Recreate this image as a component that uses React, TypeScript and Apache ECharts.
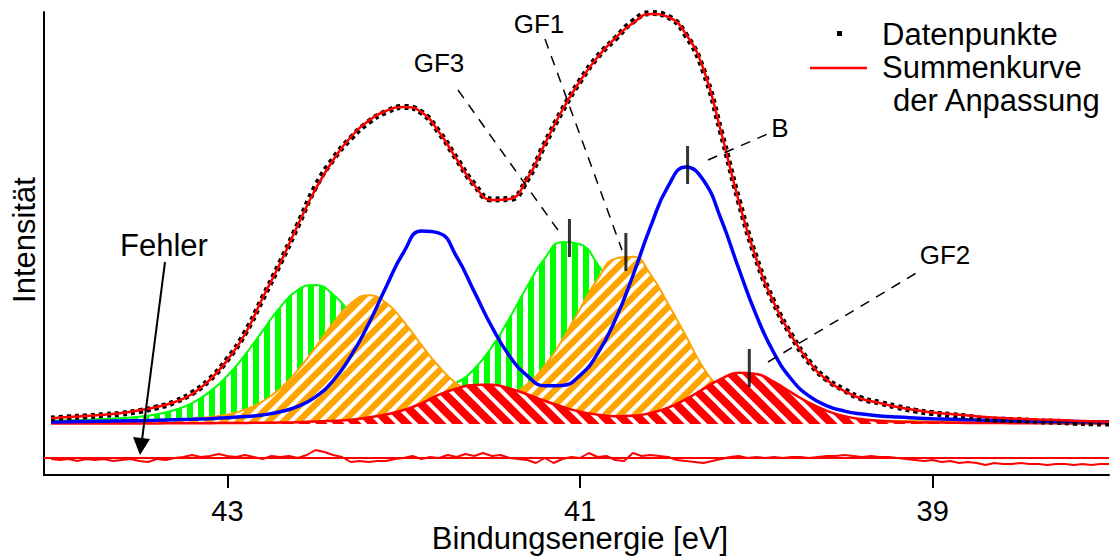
import React, { useEffect, useRef } from "react";
import * as echarts from "echarts";

const FONT = "'Liberation Sans', Arial, sans-serif";

// Binding energy grid of the fitted curves (eV)
const energies = [
  44.0, 43.9, 43.8, 43.7, 43.6, 43.5, 43.4, 43.3, 43.2, 43.1,
  43.0, 42.9, 42.8, 42.7, 42.6, 42.5, 42.4, 42.3, 42.2, 42.1,
  42.0, 41.9, 41.8, 41.7, 41.6, 41.5, 41.4, 41.3, 41.2, 41.1,
  41.0, 40.9, 40.8, 40.7, 40.6, 40.5, 40.4, 40.3, 40.2, 40.1,
  40.0, 39.9, 39.8, 39.7, 39.6, 39.5, 39.4, 39.3, 39.2, 39.1,
  39.0, 38.9, 38.8, 38.7, 38.6, 38.5, 38.4, 38.3, 38.2, 38.1,
  38.0,
];

// Summenkurve der Anpassung
const sumCurve = [
  5.7, 7, 8, 9.3, 11, 13.8, 17, 22, 30, 44,
  64, 90, 126, 161, 199, 235, 264, 287, 303, 313,
  317, 312, 292, 265, 239, 224, 225, 245, 280, 314,
  343, 367, 386, 401, 410, 407, 390, 355, 292, 223,
  165, 121, 88, 62, 44, 33, 25, 21, 17, 14,
  11.5, 10, 8.5, 7, 6, 5.2, 4.5, 4, 3.3, 2.8,
  2.3,
];

// GF3 (green, vertical hatch)
const gf3 = [
  3.3, 3.7, 4.2, 4.9, 5.9, 7.3, 9.8, 14.0, 20.9, 32.1,
  48.2, 69.1, 93.2, 116.8, 134.2, 139.1, 129.4, 110.1, 86.7, 65.1,
  48.1, 38.4, 35.5, 41.3, 55.1, 77.1, 105.8, 137.5, 165.6, 182.1,
  179.7, 159.6, 129.3, 96.7, 67.9, 45.4, 29.3, 19.2, 12.9, 9.5,
  7.5, 6.2, 5.2, 4.6, 4.0, 3.6, 3.2, 2.9, 2.65, 2.4,
  2.2, 2.1, 1.9, 1.75, 1.6, 1.5, 1.4, 1.35, 1.25, 1.2,
  1.1,
];

// GF1 (orange, diagonal hatch)
const gf1 = [
  2.0, 2.1, 2.4, 2.6, 2.95, 3.4, 3.8, 4.5, 5.4, 7.0,
  9.6, 14.4, 22.6, 35.5, 54.0, 76.7, 100.9, 120.5, 128.7, 121.2,
  102.4, 79.1, 57.5, 40.5, 30.1, 26.3, 29.6, 39.8, 58.2, 84.3,
  115.1, 144.9, 165.4, 167.3, 149.5, 119.9, 88.2, 56, 35, 22,
  15.4, 10.5, 7.7, 6.1, 5.1, 4.3, 3.8, 3.35, 3.0, 2.7,
  2.4, 2.2, 2.0, 1.85, 1.7, 1.55, 1.45, 1.35, 1.25, 1.15,
  1.1,
];

// B (blue line)
const bCurve = [
  2.1, 2.3, 2.55, 2.8, 3.0, 3.3, 3.7, 4.2, 4.7, 5.35,
  6.2, 7.4, 9.1, 12.2, 17.6, 27.2, 43.3, 67.9, 99.7, 137.1,
  171.8, 192.9, 190.9, 167.3, 132.4, 97.2, 68.0, 48.4, 38.2, 38.6,
  48.6, 70.4, 104.3, 148.5, 197.3, 237.9, 257, 243.7, 204.8, 155.5,
  108.6, 71.0, 44.5, 27.8, 18.2, 12.9, 9.9, 8.1, 6.9, 6.0,
  5.25, 4.7, 4.15, 3.75, 3.4, 3.1, 2.85, 2.6, 2.4, 2.2,
  2.05,
];

// GF2 (red, diagonal hatch)
const gf2 = [
  0.4, 0.4, 0.45, 0.5, 0.5, 0.55, 0.6, 0.7, 0.75, 0.85,
  0.95, 1.1, 1.25, 1.5, 1.8, 2.4, 3.3, 4.3, 6.5, 9.5,
  14, 20.5, 29.3, 35.4, 39.1, 39.2, 35.6, 29.7, 23.2, 17.2,
  12.4, 9.3, 7.8, 8.2, 11.0, 16.4, 24.8, 35.2, 45.2, 51.3,
  50.1, 42.1, 31.3, 21.2, 13.2, 7.85, 4.8, 3.15, 2.3, 1.8,
  1.5, 1.3, 1.1, 1.0, 0.9, 0.8, 0.7, 0.65, 0.6, 0.55,
  0.5,
];

// Fehler (residual), finer energy grid
const residualEnergies = [
  44.0, 43.95, 43.9, 43.85, 43.8, 43.75, 43.7, 43.65, 43.6, 43.55,
  43.5, 43.45, 43.4, 43.35, 43.3, 43.25, 43.2, 43.15, 43.1, 43.05,
  43.0, 42.95, 42.9, 42.85, 42.8, 42.75, 42.7, 42.65, 42.6, 42.55,
  42.5, 42.45, 42.4, 42.35, 42.3, 42.25, 42.2, 42.15, 42.1, 42.05,
  42.0, 41.95, 41.9, 41.85, 41.8, 41.75, 41.7, 41.65, 41.6, 41.55,
  41.5, 41.45, 41.4, 41.35, 41.3, 41.25, 41.2, 41.15, 41.1, 41.05,
  41.0, 40.95, 40.9, 40.85, 40.8, 40.75, 40.7, 40.65, 40.6, 40.55,
  40.5, 40.45, 40.4, 40.35, 40.3, 40.25, 40.2, 40.15, 40.1, 40.05,
  40.0, 39.95, 39.9, 39.85, 39.8, 39.75, 39.7, 39.65, 39.6, 39.55,
  39.5, 39.45, 39.4, 39.35, 39.3, 39.25, 39.2, 39.15, 39.1, 39.05,
  39.0, 38.95, 38.9, 38.85, 38.8, 38.75, 38.7, 38.65, 38.6, 38.55,
  38.5, 38.45, 38.4, 38.35, 38.3, 38.25, 38.2, 38.15, 38.1, 38.05,
  38.0,
];
const residuals = [
  -1, -2, -1, -3, -1, -2, -1, -3, -2, -1,
  -3, -4, -1, -2, 0, 1, 3, 1, 2, 4,
  2, 1, 3, 1, -1, 2, 1, 2, 0, 3,
  8, 6, 3, 1, -4, -3, -4, -3, -3, -1,
  0, 2, -1, 1, 0, 3, 1, 4, 2, 5,
  2, 3, 0, -1, -2, -5, 0, -5, -1, 1,
  0, 5, 1, 2, -2, -3, 5, 2, 3, 2,
  1, -2, -3, -4, -5, -3, -1, 1, 2, 0,
  1, 0, 1, 0, 1, 1, 0, 1, 2, 2,
  3, 2, 1, 2, 1, 1, 0, -1, -2, -3,
  -2, -4, -3, -5, -4, -5, -7, -5, -6, -6,
  -5, -6, -6, -7, -6, -6, -7, -6, -7, -6,
  -6,
];

const xTicks = [43, 41, 39];
// marked peak positions (GF3, GF1, B, GF2) and their heights
const peakEnergies = [41.06, 40.74, 40.39, 40.04];
const peakHeights = [181, 167, 254, 51];

const RESID_OFFSET = -34;
const X_MIN = 38;
const X_MAX = 44.04;
const Y_MIN = -51;
const Y_MAX = 412;

type Kind = "vertical" | "slash" | "backslash";
function stripes(kind: Kind, color: string) {
  const s = kind === "vertical" ? 11 : kind === "slash" ? 15 : 17;
  const c = document.createElement("canvas");
  c.width = s;
  c.height = s;
  const ctx = c.getContext("2d")!;
  ctx.fillStyle = "#ffffff";
  ctx.fillRect(0, 0, s, s);
  if (kind === "vertical") {
    ctx.fillStyle = color;
    ctx.fillRect(0, 0, 6, s);
  } else {
    ctx.strokeStyle = color;
    ctx.lineWidth = kind === "slash" ? 6.5 : 8;
    ctx.beginPath();
    if (kind === "slash") {
      ctx.moveTo(-s, 2 * s); ctx.lineTo(2 * s, -s);
      ctx.moveTo(-s, s); ctx.lineTo(s, -s);
      ctx.moveTo(0, 2 * s); ctx.lineTo(2 * s, 0);
    } else {
      ctx.moveTo(-s, -s); ctx.lineTo(2 * s, 2 * s);
      ctx.moveTo(-s, 0); ctx.lineTo(s, 2 * s);
      ctx.moveTo(0, -s); ctx.lineTo(2 * s, s);
    }
    ctx.stroke();
  }
  return { image: c, repeat: "repeat", imageWidth: s, imageHeight: s } as any;
}

const pairs = (vals: number[]) => energies.map((e, i) => [e, vals[i]]);

function txt(text: string, x: number, y: number, size: number, align = "center", rotation = 0) {
  return {
    type: "text",
    x,
    y,
    rotation,
    silent: true,
    z: 100,
    style: {
      text,
      fill: "#000",
      fontSize: size,
      fontFamily: FONT,
      align,
      verticalAlign: "middle",
    },
  };
}
function dashed(x1: number, y1: number, x2: number, y2: number) {
  return {
    type: "line",
    silent: true,
    z: 100,
    shape: { x1, y1, x2, y2 },
    style: { stroke: "#000", lineWidth: 1.5, lineDash: [10, 8] },
  };
}

export default function App() {
  const ref = useRef<HTMLDivElement>(null);
  useEffect(() => {
    if (!ref.current) return;
    const chart = echarts.init(ref.current, null, { renderer: "svg" });
    const dataPoints = energies.map((e, i) => [e, sumCurve[i] + residuals[i * 2] * 0.3]);
    const option: any = {
      animation: false,
      backgroundColor: "#ffffff",
      grid: { left: 44, right: 2, top: 12, bottom: 81, containLabel: false, outerBoundsMode: "none" },
      xAxis: {
        type: "value",
        min: X_MIN,
        max: X_MAX,
        inverse: true,
        axisLine: { show: true, onZero: false, lineStyle: { color: "#000", width: 2 } },
        axisTick: { show: true, inside: false, length: 13, customValues: xTicks, lineStyle: { color: "#000", width: 2 } },
        axisLabel: { show: true, customValues: xTicks, margin: 21, color: "#000", fontSize: 29, fontFamily: FONT },
        splitLine: { show: false },
      },
      yAxis: {
        type: "value",
        min: Y_MIN,
        max: Y_MAX,
        axisLine: { show: true, onZero: false, lineStyle: { color: "#000", width: 2 } },
        axisTick: { show: false },
        axisLabel: { show: false },
        splitLine: { show: false },
      },
      series: [
        {
          name: "GF3", type: "line", data: pairs(gf3), smooth: 0.5, symbol: "none", silent: true, z: 2,
          lineStyle: { color: "#00ff00", width: 2 },
          areaStyle: { color: stripes("vertical", "#00ff00"), opacity: 1 },
        },
        {
          name: "GF1", type: "line", data: pairs(gf1), smooth: 0.5, symbol: "none", silent: true, z: 3,
          lineStyle: { color: "#ffa500", width: 2 },
          areaStyle: { color: stripes("slash", "#ffa500"), opacity: 1 },
        },
        {
          name: "GF2", type: "line", data: pairs(gf2), smooth: 0.5, symbol: "none", silent: true, z: 4,
          lineStyle: { color: "#ff0000", width: 2.5 },
          areaStyle: { color: stripes("backslash", "#ff0000"), opacity: 1 },
        },
        {
          name: "B", type: "line", data: pairs(bCurve), smooth: 0.5, symbol: "none", silent: true, z: 5,
          lineStyle: { color: "#0000ff", width: 3.5 },
        },
        {
          name: "Datenpunkte", type: "line", data: dataPoints, smooth: 0.5, symbol: "none", silent: true, z: 6,
          lineStyle: { color: "#000000", width: 6, type: [4, 4] },
        },
        {
          name: "Summenkurve", type: "line", data: pairs(sumCurve), smooth: 0.5, symbol: "none", silent: true, z: 7,
          lineStyle: { color: "#ff0000", width: 2.5 },
        },
        {
          name: "Null", type: "line", data: [[X_MIN, RESID_OFFSET], [X_MAX, RESID_OFFSET]], symbol: "none", silent: true, z: 7,
          lineStyle: { color: "#ff0000", width: 2 },
        },
        {
          name: "Fehler", type: "line", symbol: "none", silent: true, z: 7,
          data: residualEnergies.map((e, i) => [e, RESID_OFFSET + residuals[i]]),
          lineStyle: { color: "#ff0000", width: 2 },
        },
        {
          name: "Peaks", type: "scatter", silent: true, z: 8,
          symbol: "rect", symbolSize: [3, 38],
          data: peakEnergies.map((e, i) => [e, peakHeights[i] + 5]),
          itemStyle: { color: "#000000" },
        },
      ],
      graphic: {
        elements: [
          // legend
          { type: "rect", silent: true, z: 100, shape: { x: 837, y: 31, width: 5, height: 5 }, style: { fill: "#000" } },
          txt("Datenpunkte", 882, 34, 31, "left"),
          { type: "line", silent: true, z: 100, shape: { x1: 810, y1: 68, x2: 867, y2: 68 }, style: { stroke: "#ff0000", lineWidth: 2.5 } },
          txt("Summenkurve", 882, 67, 31, "left"),
          txt("der Anpassung", 893, 100, 31, "left"),
          // annotations
          txt("GF1", 539, 24, 26),
          txt("GF3", 439, 63, 26),
          txt("B", 780, 128, 26),
          txt("GF2", 945, 255, 26),
          dashed(545, 39, 622, 250),
          dashed(458, 90, 560, 233),
          dashed(708, 160, 772, 132),
          dashed(768, 362, 918, 272),
          txt("Fehler", 164, 245, 31),
          { type: "line", silent: true, z: 100, shape: { x1: 165, y1: 262, x2: 142, y2: 440 }, style: { stroke: "#000", lineWidth: 2 } },
          { type: "polygon", silent: true, z: 100, shape: { points: [[140, 455], [150, 439], [133, 437]] }, style: { fill: "#000" } },
          // axis titles
          txt("Bindungsenergie [eV]", 580, 538, 31),
          txt("Intensität", 24, 240, 31, "center", Math.PI / 2),
        ],
      },
    };
    chart.setOption(option);
    return () => chart.dispose();
  }, []);
  return (
    <div
      ref={ref}
      style={{ position: "absolute", left: 0, top: 0, width: 1111, height: 556, background: "#fff" }}
    />
  );
}
